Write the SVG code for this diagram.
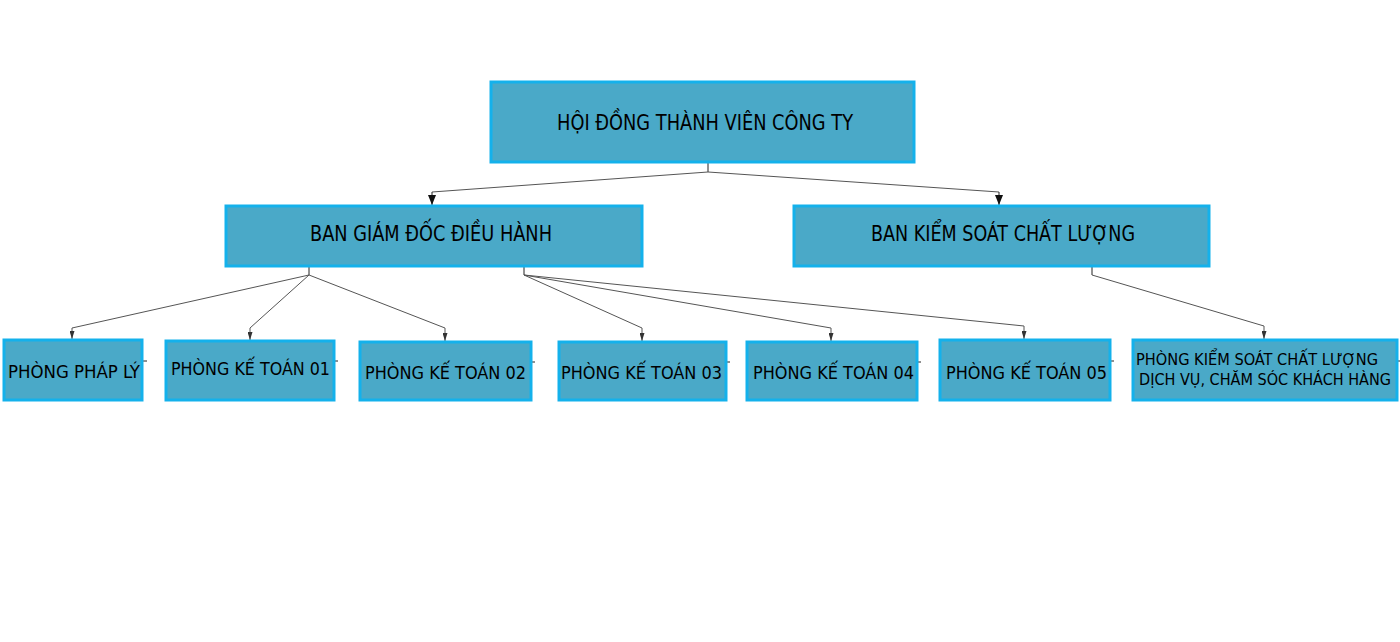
<svg xmlns="http://www.w3.org/2000/svg" width="1400" height="642" viewBox="0 0 1400 642">
<style>
.box{fill:#4aa9c8;stroke:#14b1eb;stroke-width:3}
.t{font-family:"DejaVu Sans Condensed","DejaVu Sans",sans-serif;fill:#000;text-anchor:start}
.big{font-size:21px}
.small{font-size:18.5px}
.xs{font-size:15.5px}
.c{fill:none;stroke:#555;stroke-width:1}
.c2{fill:none;stroke:#222;stroke-width:1}
</style>
<defs>
<marker id="ah" markerWidth="8" markerHeight="10" refX="4" refY="10" markerUnits="userSpaceOnUse" viewBox="0 0 8 10">
<path d="M0,0 L8,0 L4,10 Z" fill="#111"/>
</marker>
<marker id="as" markerWidth="5" markerHeight="8" refX="2.5" refY="8" markerUnits="userSpaceOnUse" viewBox="0 0 5 8">
<path d="M0,0 L5,0 L2.5,8 Z" fill="#333"/>
</marker>
</defs>
<rect width="1400" height="642" fill="#fff"/>
<g id="connectors">
<path class="c2" d="M708,162 V172"/>
<path class="c" d="M708,172 L432,192"/>
<path class="c2" d="M432,192 V205" marker-end="url(#ah)"/>
<path class="c" d="M708,172 L999,192"/>
<path class="c2" d="M999,192 V205" marker-end="url(#ah)"/>
<path class="c2" d="M309,267 V275"/>
<path class="c" d="M309,275 L72,328 V339" marker-end="url(#as)"/>
<path class="c" d="M309,275 L250,328 V340" marker-end="url(#as)"/>
<path class="c" d="M309,275 L445,328 V341" marker-end="url(#as)"/>
<path class="c2" d="M524,267 V275"/>
<path class="c" d="M524,275 L642,328 V341" marker-end="url(#as)"/>
<path class="c" d="M524,275 L831,328 V341" marker-end="url(#as)"/>
<path class="c" d="M524,275 L1024,326 V339" marker-end="url(#as)"/>
<path class="c2" d="M1092,267 V275"/>
<path class="c" d="M1092,275 L1264,326 V339" marker-end="url(#as)"/>
<path class="c2" d="M143,361 H147 M335,361 H338 M532,362 H535 M727,362 H730 M918,362 H921 M1111,361 H1114 M1398,361 H1400"/>
</g>
<g id="n-hdtv">
<rect class="box" x="491" y="82" width="423" height="80"/>
<text class="t big" x="557" y="130" textLength="296" lengthAdjust="spacingAndGlyphs">HỘI ĐỒNG THÀNH VIÊN CÔNG TY</text>
</g>
<g id="n-bgd">
<rect class="box" x="226" y="206" width="416" height="60"/>
<text class="t big" x="310" y="241" textLength="242" lengthAdjust="spacingAndGlyphs">BAN GIÁM ĐỐC ĐIỀU HÀNH</text>
</g>
<g id="n-bks">
<rect class="box" x="794" y="206" width="415" height="60"/>
<text class="t big" x="871" y="241" textLength="264" lengthAdjust="spacingAndGlyphs">BAN KIỂM SOÁT CHẤT LƯỢNG</text>
</g>
<g id="n-pl">
<rect class="box" x="4" y="340" width="138" height="60"/>
<text class="t small" x="8" y="378" textLength="132" lengthAdjust="spacingAndGlyphs">PHÒNG PHÁP LÝ</text>
</g>
<g id="n-kt01">
<rect class="box" x="166" y="341" width="168" height="59"/>
<text class="t small" x="171" y="375" textLength="159" lengthAdjust="spacingAndGlyphs">PHÒNG KẾ TOÁN 01</text>
</g>
<g id="n-kt02">
<rect class="box" x="360" y="342" width="171" height="58"/>
<text class="t small" x="365" y="379" textLength="161" lengthAdjust="spacingAndGlyphs">PHÒNG KẾ TOÁN 02</text>
</g>
<g id="n-kt03">
<rect class="box" x="559" y="342" width="167" height="58"/>
<text class="t small" x="561" y="379" textLength="161" lengthAdjust="spacingAndGlyphs">PHÒNG KẾ TOÁN 03</text>
</g>
<g id="n-kt04">
<rect class="box" x="747" y="342" width="170" height="58"/>
<text class="t small" x="753" y="379" textLength="161" lengthAdjust="spacingAndGlyphs">PHÒNG KẾ TOÁN 04</text>
</g>
<g id="n-kt05">
<rect class="box" x="940" y="340" width="170" height="60"/>
<text class="t small" x="946" y="379" textLength="161" lengthAdjust="spacingAndGlyphs">PHÒNG KẾ TOÁN 05</text>
</g>
<g id="n-kscl">
<rect class="box" x="1133" y="340" width="264" height="60"/>
<text class="t xs" x="1136" y="365" textLength="242" lengthAdjust="spacingAndGlyphs">PHÒNG KIỂM SOÁT CHẤT LƯỢNG</text>
<text class="t xs" x="1139" y="385" textLength="252" lengthAdjust="spacingAndGlyphs">DỊCH VỤ, CHĂM SÓC KHÁCH HÀNG</text>
</g>
</svg>
